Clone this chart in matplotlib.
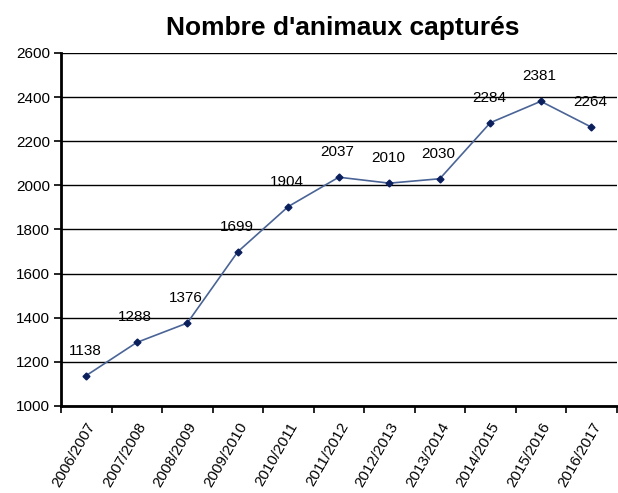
import matplotlib.pyplot as plt
from matplotlib.ticker import MultipleLocator, FixedLocator

# === Data ===
seasons = ["2006/2007", "2007/2008", "2008/2009", "2009/2010", "2010/2011",
           "2011/2012", "2012/2013", "2013/2014", "2014/2015", "2015/2016",
           "2016/2017"]
captures = [1138, 1288, 1376, 1699, 1904, 2037, 2010, 2030, 2284, 2381, 2264]

plt.rcParams['font.family'] = ['Liberation Sans', 'DejaVu Sans']

fig = plt.figure(figsize=(6.18, 4.93), dpi=100)
ax = fig.add_axes([0.0987, 0.1765, 0.899, 0.716])

x = list(range(len(seasons)))
ax.plot(x, captures, color='#4a6496', linewidth=1.2,
        marker='D', markersize=3.5, markerfacecolor='#0a1f5c',
        markeredgecolor='#0a1f5c', zorder=3)

for xi, v in zip(x, captures):
    ax.annotate(str(v), (xi, v), xytext=(-1, 18), textcoords='offset points',
                ha='center', va='center', fontsize=11)

ax.set_xlim(-0.5, len(seasons) - 0.5)
ax.set_ylim(1000, 2600)
ax.yaxis.set_major_locator(MultipleLocator(200))
ax.grid(axis='y', color='black', linewidth=1)
ax.set_axisbelow(True)

# category labels centred, tick marks on the boundaries
ax.set_xticks(x)
ax.set_xticklabels(seasons, rotation=60, ha='right', rotation_mode='anchor', fontsize=11)
ax.tick_params(axis='x', which='major', length=0, pad=10)
ax.xaxis.set_minor_locator(FixedLocator([i - 0.5 for i in range(len(seasons) + 1)]))
ax.tick_params(axis='x', which='minor', length=5, width=1.2, direction='out')
ax.tick_params(axis='y', length=5, width=1.2, labelsize=11, pad=3)

for side in ['top', 'right']:
    ax.spines[side].set_visible(False)
ax.spines['left'].set_linewidth(2)
ax.spines['bottom'].set_linewidth(2)

fig.suptitle("Nombre d'animaux capturés", x=0.555, y=0.968, fontsize=19, fontweight='bold')

fig.savefig('out.png', dpi=100)
